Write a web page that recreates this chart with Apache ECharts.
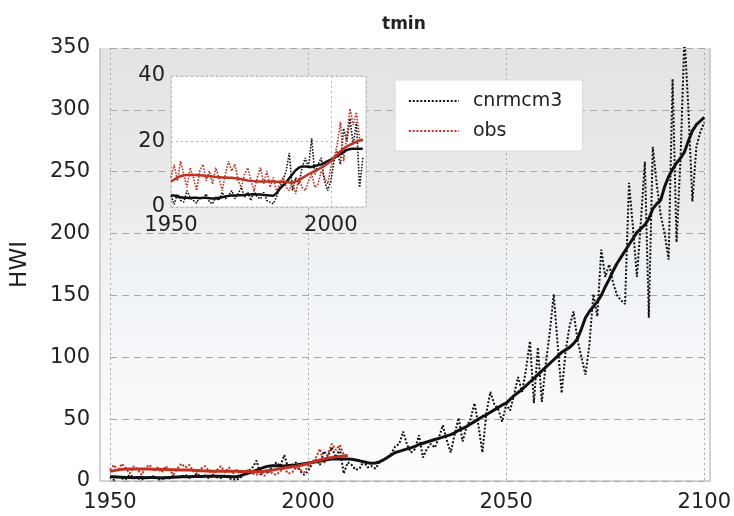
<!DOCTYPE html>
<html><head><meta charset="utf-8">
<script src="https://cdn.jsdelivr.net/npm/echarts@6/dist/echarts.min.js"></script>
<style>html,body{margin:0;padding:0;background:#fff}#c{width:734px;height:516px}</style>
</head><body><div id="c"></div>
<script>
// ---- data ----
const FIRST_YEAR = 1950;
const OBS_LAST_YEAR = 2010;
// cnrmcm3 annual HWI (dotted black), 1950-2100
const modelAnnual = [
  3.5, 0.8, 4, 2, 1.5, 5, 3, 2, 1.2, 3,
  2.5, 4, 1.5, 1, 3, 2, 4.5, 2.5, 3.5, 5,
  2.5, 4, 6, 3, 4.5, 2, 5, 3, 2.5, 4.5,
  2, 1.5, 1, 3, 6, 8, 11, 16.5, 5, 9,
  7, 12, 15, 12, 21, 10, 13, 15, 8, 5,
  8, 14, 17, 13, 24, 20, 27, 19, 26, 6,
  15, 13, 9, 10, 16, 11, 12, 10, 15, 17,
  19, 22, 28, 30, 40, 29, 23, 26, 37, 19,
  26, 30, 27, 35, 45, 33, 23, 38, 51, 32,
  44, 50, 63, 45, 23, 55, 72, 62, 58, 48,
  62, 57, 70, 84, 72, 90, 113, 63, 108, 64,
  95, 120, 151, 110, 71, 105, 125, 137, 114, 100,
  86, 110, 151, 133, 187, 165, 175, 160, 150, 146,
  143, 241, 205, 165, 210, 258, 132, 270, 240, 215,
  200, 179, 325, 193, 260, 360, 300, 226, 270, 282,
  290
];
// cnrmcm3 smoothed HWI (solid black), 1950-2100
const modelSmooth = [
  3.5, 3.5, 3.2, 3.0, 2.8, 2.8, 2.7, 2.8, 2.8, 2.7,
  2.8, 2.8, 2.7, 2.6, 2.6, 2.8, 3.0, 3.2, 3.4, 3.5,
  3.5, 3.6, 3.6, 3.7, 3.8, 3.8, 3.9, 3.8, 3.8, 3.7,
  3.6, 3.5, 3.4, 4.2, 5.5, 6.5, 7.5, 8.8, 10.0, 11.2,
  12.0, 12.4, 12.4, 12.2, 12.2, 12.5, 12.8, 13.0, 13.5, 14.0,
  14.5, 15.0, 15.6, 16.2, 16.8, 17.4, 17.7, 17.8, 17.8, 17.8,
  17.8, 17.5, 17.0, 16.3, 15.5, 14.8, 14.4, 14.6, 15.5, 17.0,
  19.0, 21.0, 23.0, 24.0, 25.0, 26.0, 27.0, 28.0, 29.5, 30.5,
  31.5, 32.5, 33.5, 34.5, 35.5, 36.5, 37.5, 39.0, 41.0, 42.5,
  44.0, 46.0, 48.0, 50.0, 52.0, 53.5, 55.5, 57.5, 59.5, 61.5,
  63, 66, 69, 71.5, 74, 77, 80, 83, 86, 89,
  92, 95, 98, 101, 104, 106, 108, 111, 115, 123,
  132, 137, 141, 145, 150, 157, 163, 170, 176, 181,
  186, 191, 196, 201, 204, 207, 212, 220, 224, 227,
  238, 246, 252, 257, 261, 266, 275, 283, 288, 291,
  294
];
// observed annual HWI (dotted red), 1950-2010
const obsAnnual = [
  9, 13, 8, 14, 10, 6, 12, 9, 5, 11,
  13, 8, 11, 7, 12, 9, 5, 10, 14, 11,
  13, 8, 6, 10, 12, 8, 5, 9, 12, 7,
  11, 6, 9, 5, 7, 9, 6, 5, 8, 4,
  9, 6, 5, 8, 10, 6, 7, 11, 9, 7,
  12, 15, 19, 26, 14, 22, 30, 25, 29, 21,
  20
];
// observed smoothed HWI (solid red), 1950-2010
const obsSmooth = [
  7.8, 8.4, 9.0, 9.4, 9.7, 9.8, 9.8, 9.8, 9.8, 9.7,
  9.6, 9.5, 9.4, 9.3, 9.2, 9.1, 9.0, 9.0, 8.9, 8.9,
  8.8, 8.7, 8.5, 8.3, 8.1, 8.0, 7.9, 7.8, 7.8, 7.8,
  7.8, 7.8, 7.8, 7.7, 7.7, 7.7, 7.6, 7.5, 7.5, 7.8,
  8.2, 8.8, 9.4, 10.0, 10.5, 11.0, 11.5, 12.0, 12.6, 13.3,
  14.0, 15.0, 16.0, 17.0, 17.8, 18.5, 19.0, 19.5, 19.9, 20.3,
  20.6
];
const seriesNames = ['cnrmcm3', 'obs'];
const titleText = 'tmin';
const yName = 'HWI';

// ---- build ----
const pairs = arr => arr.map((v, i) => [FIRST_YEAR + i, v]);
const nObs = OBS_LAST_YEAR - FIRST_YEAR + 1;
const plain = v => String(v);

const BLACK = '#111111';
const RED = '#c2301f';
const FONT = 'DejaVu Sans';
const dotted = (color, w) => ({ color: color, width: w, type: [w, w * 0.9] });

const chart = echarts.init(document.getElementById('c'), null, { renderer: 'canvas' });

// plot frame (slightly wider than data grid on the left)
const FR = { x: 100, y: 48, w: 610, h: 433 };

chart.setOption({
  animation: false,
  backgroundColor: '#ffffff',
  textStyle: { fontFamily: FONT },
  title: {
    text: titleText, left: 377, top: 11,
    textStyle: { fontFamily: FONT, fontSize: 17, fontWeight: 'bold', color: '#222' }
  },
  graphic: [
    { type: 'rect', z: -10, silent: true,
      shape: { x: FR.x, y: FR.y, width: FR.w, height: FR.h },
      style: { fill: new echarts.graphic.LinearGradient(0, 0, 0, 1, [
        { offset: 0, color: '#e3e3e3' },
        { offset: 0.35, color: '#ebebeb' },
        { offset: 0.5, color: '#eff2f5' },
        { offset: 0.75, color: '#f6f8fa' },
        { offset: 1, color: '#fdfdfd' }
      ]) } },
    { type: 'polyline', z: -5, silent: true,
      shape: { points: [[FR.x, FR.y], [FR.x, FR.y + FR.h], [FR.x + FR.w, FR.y + FR.h], [FR.x + FR.w, FR.y]] },
      style: { stroke: '#c4c4c4', lineWidth: 1.5, fill: null } }
  ],
  legend: {
    data: seriesNames,
    orient: 'vertical',
    left: 395, top: 80,
    padding: [11, 20, 10, 13],
    itemGap: 10, itemWidth: 50, itemHeight: 20,
    itemStyle: { opacity: 0 },
    lineStyle: { width: 1.8 },
    backgroundColor: '#ffffff', borderColor: '#d8d8d8', borderWidth: 1,
    textStyle: { fontFamily: FONT, fontSize: 19, color: '#222', lineHeight: 20, padding: [0, 0, 0, 9] },
    z: 10
  },
  grid: [
    { left: 110, right: 24, top: 48, bottom: 35 },
    { left: 171, top: 76, width: 195, height: 131, show: true, z: 3,
      backgroundColor: '#ffffff', borderColor: '#cfcfcf', borderWidth: 1 }
  ],
  xAxis: [
    { type: 'value', gridIndex: 0, min: 1950, max: 2100, interval: 50,
      axisLine: { show: false }, axisTick: { show: false },
      axisLabel: { fontFamily: FONT, fontSize: 21, color: '#222', margin: 11, formatter: plain },
      splitLine: { show: true, lineStyle: { color: '#aaaaaa', width: 1, type: [2, 3] } } },
    { type: 'value', gridIndex: 1, min: 1950, max: 2011, interval: 50, z: 4,
      axisLine: { show: false }, axisTick: { show: false },
      axisLabel: { fontFamily: FONT, fontSize: 21, color: '#222', margin: 8, showMaxLabel: false, formatter: plain },
      splitLine: { show: true, lineStyle: { color: '#b4b4b4', width: 1, type: [2, 3] } } }
  ],
  yAxis: [
    { type: 'value', gridIndex: 0, min: 0, max: 350, interval: 50,
      name: yName, nameLocation: 'middle', nameGap: 78, nameRotate: 90,
      nameTextStyle: { fontFamily: FONT, fontSize: 23, color: '#222' },
      axisLine: { show: false }, axisTick: { show: false },
      axisLabel: { fontFamily: FONT, fontSize: 21, color: '#222', margin: 20, formatter: plain },
      splitLine: { show: true, lineStyle: { color: '#a8a8a8', width: 1, type: [7, 5] } } },
    { type: 'value', gridIndex: 1, min: 0, max: 40, interval: 20, z: 4,
      axisLine: { show: false }, axisTick: { show: false },
      axisLabel: { fontFamily: FONT, fontSize: 21, color: '#222', margin: 6, formatter: plain },
      splitLine: { show: true, lineStyle: { color: '#b4b4b4', width: 1, type: [2, 3] } } }
  ],
  series: [
    { name: seriesNames[0], type: 'line', xAxisIndex: 0, yAxisIndex: 0, symbol: 'none', z: 2,
      lineStyle: dotted(BLACK, 2), itemStyle: { color: BLACK }, data: pairs(modelAnnual) },
    { name: seriesNames[1], type: 'line', xAxisIndex: 0, yAxisIndex: 0, symbol: 'none', z: 2,
      lineStyle: dotted(RED, 2), itemStyle: { color: RED }, data: pairs(obsAnnual) },
    { name: seriesNames[0] + ' smooth', type: 'line', xAxisIndex: 0, yAxisIndex: 0, symbol: 'none', z: 3,
      lineStyle: { color: BLACK, width: 3 }, data: pairs(modelSmooth) },
    { name: seriesNames[1] + ' smooth', type: 'line', xAxisIndex: 0, yAxisIndex: 0, symbol: 'none', z: 3,
      lineStyle: { color: RED, width: 3 }, data: pairs(obsSmooth) },
    // inset
    { name: seriesNames[0], type: 'line', xAxisIndex: 1, yAxisIndex: 1, symbol: 'none', z: 5,
      lineStyle: dotted(BLACK, 1.6), data: pairs(modelAnnual.slice(0, nObs)) },
    { name: seriesNames[1], type: 'line', xAxisIndex: 1, yAxisIndex: 1, symbol: 'none', z: 5,
      lineStyle: dotted(RED, 1.6), data: pairs(obsAnnual) },
    { name: seriesNames[0] + ' smooth', type: 'line', xAxisIndex: 1, yAxisIndex: 1, symbol: 'none', z: 6,
      lineStyle: { color: BLACK, width: 2.5 }, data: pairs(modelSmooth.slice(0, nObs)) },
    { name: seriesNames[1] + ' smooth', type: 'line', xAxisIndex: 1, yAxisIndex: 1, symbol: 'none', z: 6,
      lineStyle: { color: RED, width: 2.5 }, data: pairs(obsSmooth) }
  ]
});
</script>
</body></html>
